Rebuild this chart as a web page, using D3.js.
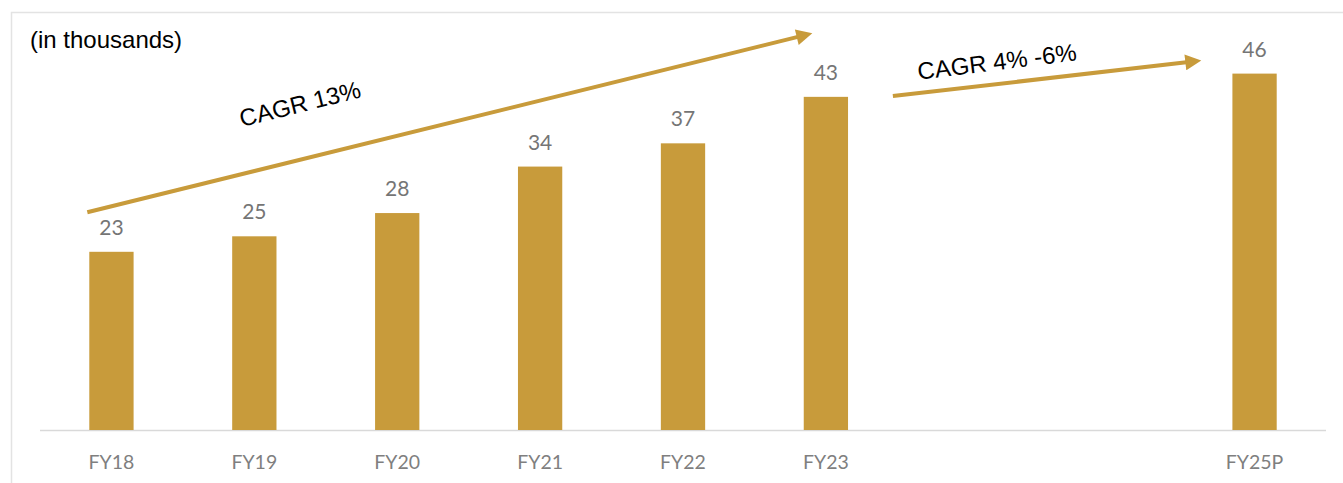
<!DOCTYPE html>
<html>
<head>
<meta charset="utf-8">
<script src="https://cdn.jsdelivr.net/npm/d3@7"></script>
<style>
  body { margin: 0; background: #fff; }
  svg { display: block; }
</style>
</head>
<body>
<svg id="chart"></svg>
<script>
// categories incl. two empty slots between FY23 and FY25P
const categories = ["FY18", "FY19", "FY20", "FY21", "FY22", "FY23", "gap1", "gap2", "FY25P"];
const tickLabels = ["FY18", "FY19", "FY20", "FY21", "FY22", "FY23", "", "", "FY25P"];
const values = [23, 25, 28, 34, 37, 43, null, null, 46];

const cagrLabels = ["CAGR 13%", "CAGR 4% -6%"];

const width = 1343, height = 483;
const gold = "#c89b3b";

const svg = d3.select("#chart").attr("width", width).attr("height", height);

// light frame
svg.append("path")
    .attr("d", `M11.5,${height} V12.5 H${width}`)
    .attr("fill", "none")
    .attr("stroke", "#e3e3e3")
    .attr("stroke-width", 1.5);

const xScale = d3.scaleBand()
    .domain(categories)
    .range([40, 1326])
    .paddingInner(0.69)
    .paddingOuter(0.345);

const yScale = d3.scaleLinear()
    .domain([0, 55.5])
    .range([430, 0]);

// baseline
svg.append("line")
    .attr("x1", 40).attr("x2", 1326)
    .attr("y1", yScale(0) + 0.5).attr("y2", yScale(0) + 0.5)
    .attr("stroke", "#d9d9d9")
    .attr("stroke-width", 1.5);

const data = categories.map((c, i) => ({cat: c, label: tickLabels[i], value: values[i]}));

svg.selectAll("rect.bar")
    .data(data.filter(d => d.value != null))
    .join("rect")
    .attr("class", "bar")
    .attr("x", d => xScale(d.cat))
    .attr("y", d => yScale(d.value))
    .attr("width", xScale.bandwidth())
    .attr("height", d => yScale(0) - yScale(d.value))
    .attr("fill", gold);

svg.selectAll("text.val")
    .data(data.filter(d => d.value != null))
    .join("text")
    .attr("class", "val")
    .attr("x", d => xScale(d.cat) + xScale.bandwidth() / 2)
    .attr("y", d => yScale(d.value) - 17)
    .attr("text-anchor", "middle")
    .attr("font-family", "Lato, 'Open Sans', sans-serif")
    .attr("font-size", 21)
    .attr("fill", "#757575")
    .text(d => d.value);

svg.selectAll("text.tick")
    .data(data.filter(d => d.label))
    .join("text")
    .attr("class", "tick")
    .attr("x", d => xScale(d.cat) + xScale.bandwidth() / 2)
    .attr("y", 469)
    .attr("text-anchor", "middle")
    .attr("font-family", "Lato, 'Open Sans', sans-serif")
    .attr("font-size", 19.5)
    .attr("fill", "#7f7f7f")
    .text(d => d.label);

svg.append("text")
    .attr("x", 30).attr("y", 48)
    .attr("font-family", "'Liberation Sans', Arial, sans-serif")
    .attr("font-size", 24)
    .attr("fill", "#000")
    .text("(in thousands)");

// arrowhead
svg.append("defs").append("marker")
    .attr("id", "head")
    .attr("viewBox", "0 0 10 10")
    .attr("refX", 2).attr("refY", 5)
    .attr("markerWidth", 4.2).attr("markerHeight", 4)
    .attr("orient", "auto")
    .append("path")
    .attr("d", "M0,0 L10,5 L0,10 z")
    .attr("fill", gold);

const cx = c => xScale(c) + xScale.bandwidth() / 2;
const arrows = [
  {x1: xScale("FY18") - 2, y1: yScale(28.1), x2: cx("FY23") - 26, y2: yScale(50.8)},
  {x1: cx("FY23") + 67, y1: yScale(43.1), x2: cx("FY25P") - 66, y2: yScale(47.5)}
];

svg.selectAll("line.arrow")
    .data(arrows)
    .join("line")
    .attr("class", "arrow")
    .attr("x1", d => d.x1).attr("y1", d => d.y1)
    .attr("x2", d => d.x2).attr("y2", d => d.y2)
    .attr("stroke", gold)
    .attr("stroke-width", 4)
    .attr("marker-end", "url(#head)");

const labelPos = [
  {x: 302, y: 112, angle: -14},
  {x: 998, y: 70, angle: -7}
];

svg.selectAll("text.cagr")
    .data(cagrLabels)
    .join("text")
    .attr("class", "cagr")
    .attr("transform", (d, i) => `translate(${labelPos[i].x},${labelPos[i].y}) rotate(${labelPos[i].angle})`)
    .attr("text-anchor", "middle")
    .attr("font-family", "'Liberation Sans', Arial, sans-serif")
    .attr("font-size", 24)
    .attr("fill", "#000")
    .text(d => d);
</script>
</body>
</html>
